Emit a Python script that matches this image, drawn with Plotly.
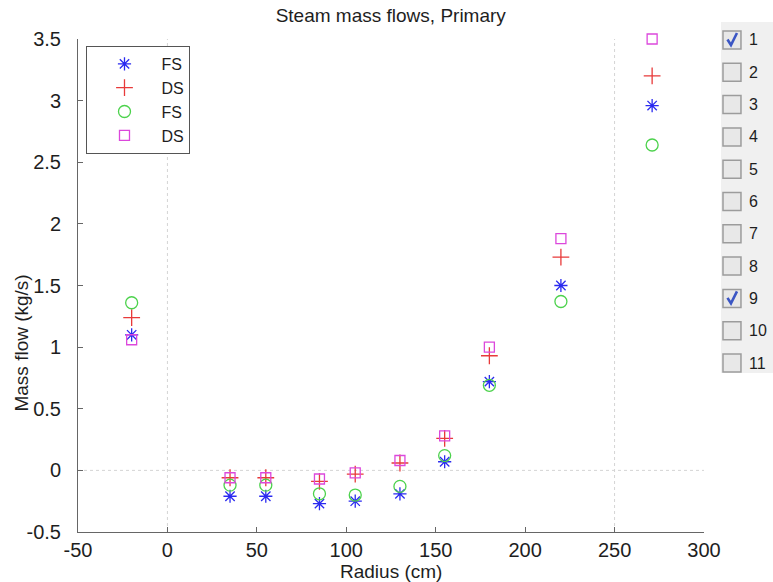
import plotly.graph_objects as go

# Radial positions (cm)
radius = [-20, 35, 55, 85, 105, 130, 155, 180, 220, 271]

# Steam mass flows (kg/s) for the four series
fs_1 = [1.10, -0.21, -0.21, -0.27, -0.25, -0.19, 0.07, 0.72, 1.50, 2.96]
ds_1 = [1.24, -0.06, -0.06, -0.09, -0.03, 0.06, 0.26, 0.93, 1.73, 3.20]
fs_9 = [1.36, -0.12, -0.12, -0.19, -0.20, -0.13, 0.12, 0.69, 1.37, 2.64]
ds_9 = [1.06, -0.06, -0.06, -0.07, -0.02, 0.08, 0.28, 1.00, 1.88, 3.50]

series_names = ["FS", "DS", "FS", "DS"]

x_ticks = [-50, 0, 50, 100, 150, 200, 250, 300]
x_tick_text = ["-50", "0", "50", "100", "150", "200", "250", "300"]
y_ticks = [-0.5, 0, 0.5, 1, 1.5, 2, 2.5, 3, 3.5]
y_tick_text = ["-0.5", "0", "0.5", "1", "1.5", "2", "2.5", "3", "3.5"]

grid_x = [0, 250]
grid_y = [0]

run_labels = ["1", "2", "3", "4", "5", "6", "7", "8", "9", "10", "11"]
run_checked = [True, False, False, False, False, False, False, False, True, False, False]

FONT = "Liberation Sans, Arial, sans-serif"
TXT = "#1e1e1e"
W, H = 773, 582
L, R, T, B = 77.5, 69, 39, 50
PW, PH = W - L - R, H - T - B


def px_x(v):
    """pixel column -> paper x (paper spans the plotting area)"""
    return (v - L) / PW


def px_y(v):
    """pixel row -> paper y"""
    return (H - B - v) / PH


fig = go.Figure()

styles = [
    dict(symbol="asterisk-open", size=11, color="#2a2af0"),
    dict(symbol="cross-thin-open", size=12, color="#e83a3a"),
    dict(symbol="circle-open", size=12, color="#4cd24c"),
    dict(symbol="square-open", size=10, color="#dc48dc"),
]
for name, vals, st in zip(series_names, [fs_1, ds_1, fs_9, ds_9], styles):
    fig.add_trace(go.Scatter(
        x=radius, y=vals, mode="markers", name=name, cliponaxis=False,
        marker=dict(symbol=st["symbol"], size=st["size"], color=st["color"],
                    line=dict(color=st["color"], width=1.3)),
    ))

shapes = []
# faint dotted reference lines
for gx in grid_x:
    shapes.append(dict(type="line", xref="x", yref="paper", x0=gx, x1=gx, y0=0, y1=1,
                       line=dict(color="#d4d4d4", width=1, dash="dot"), layer="below"))
for gy in grid_y:
    shapes.append(dict(type="line", xref="paper", yref="y", x0=0, x1=1, y0=gy, y1=gy,
                       line=dict(color="#d4d4d4", width=1, dash="dot"), layer="below"))

annotations = []

# run-selection panel on the right
shapes.append(dict(type="rect", xref="paper", yref="paper",
                   x0=px_x(721), x1=px_x(773), y0=px_y(22), y1=px_y(373),
                   fillcolor="#f0f0f0", line=dict(width=0), layer="below"))
row0, step = 40, 32.3
for i, (lab, chk) in enumerate(zip(run_labels, run_checked)):
    cy = row0 + step * i
    shapes.append(dict(type="rect", xref="paper", yref="paper",
                       x0=px_x(723), x1=px_x(741), y0=px_y(cy - 9), y1=px_y(cy + 9),
                       fillcolor="#e8e8e8", line=dict(color="#9c9c9c", width=1.5)))
    if chk:
        path = "M {} {} L {} {} L {} {}".format(
            px_x(727.5), px_y(cy - 0.5), px_x(731), px_y(cy + 5), px_x(737), px_y(cy - 7))
        shapes.append(dict(type="path", xref="paper", yref="paper", path=path,
                           line=dict(color="#3b56c4", width=2.6)))
    annotations.append(dict(xref="paper", yref="paper", x=px_x(747), y=px_y(cy),
                            text=lab, showarrow=False, xanchor="left", yanchor="middle",
                            font=dict(family=FONT, size=16, color=TXT)))

# axis titles
annotations.append(dict(xref="paper", yref="paper", x=px_x(391), y=px_y(571),
                        text="Radius (cm)", showarrow=False,
                        xanchor="center", yanchor="middle",
                        font=dict(family=FONT, size=19, color=TXT)))
annotations.append(dict(xref="paper", yref="paper", x=px_x(20), y=px_y(343),
                        text="Mass flow (kg/s)", showarrow=False, textangle=-90,
                        xanchor="center", yanchor="middle",
                        font=dict(family=FONT, size=19, color=TXT)))

axis_common = dict(showgrid=False, zeroline=False, showline=True, linecolor="#666666",
                   linewidth=1, ticks="inside", ticklen=5, tickcolor="#666666")

fig.update_layout(
    width=W, height=H,
    paper_bgcolor="white", plot_bgcolor="white",
    margin=dict(l=L, r=R, t=T, b=B, pad=0),
    title=dict(text="Steam mass flows, Primary", x=(L + (W - R)) / 2 / W, xanchor="center",
               y=1 - 15 / H, yanchor="middle",
               font=dict(family=FONT, size=19, color=TXT)),
    font=dict(family=FONT, size=16, color=TXT),
    xaxis=dict(range=[-50, 300], tickvals=x_ticks, ticktext=x_tick_text,
               tickfont=dict(family=FONT, size=20, color=TXT), **axis_common),
    yaxis=dict(range=[-0.5, 3.5], tickvals=y_ticks, ticktext=y_tick_text,
               ticklabelstandoff=12,
               tickfont=dict(family=FONT, size=20, color=TXT), **axis_common),
    legend=dict(x=px_x(86), y=px_y(46), xanchor="left", yanchor="top",
                bgcolor="white", bordercolor="#555555", borderwidth=1,
                itemwidth=64, tracegroupgap=0,
                font=dict(family=FONT, size=16, color=TXT)),
    shapes=shapes,
    annotations=annotations,
    showlegend=True,
)

fig.write_html("out.html")
